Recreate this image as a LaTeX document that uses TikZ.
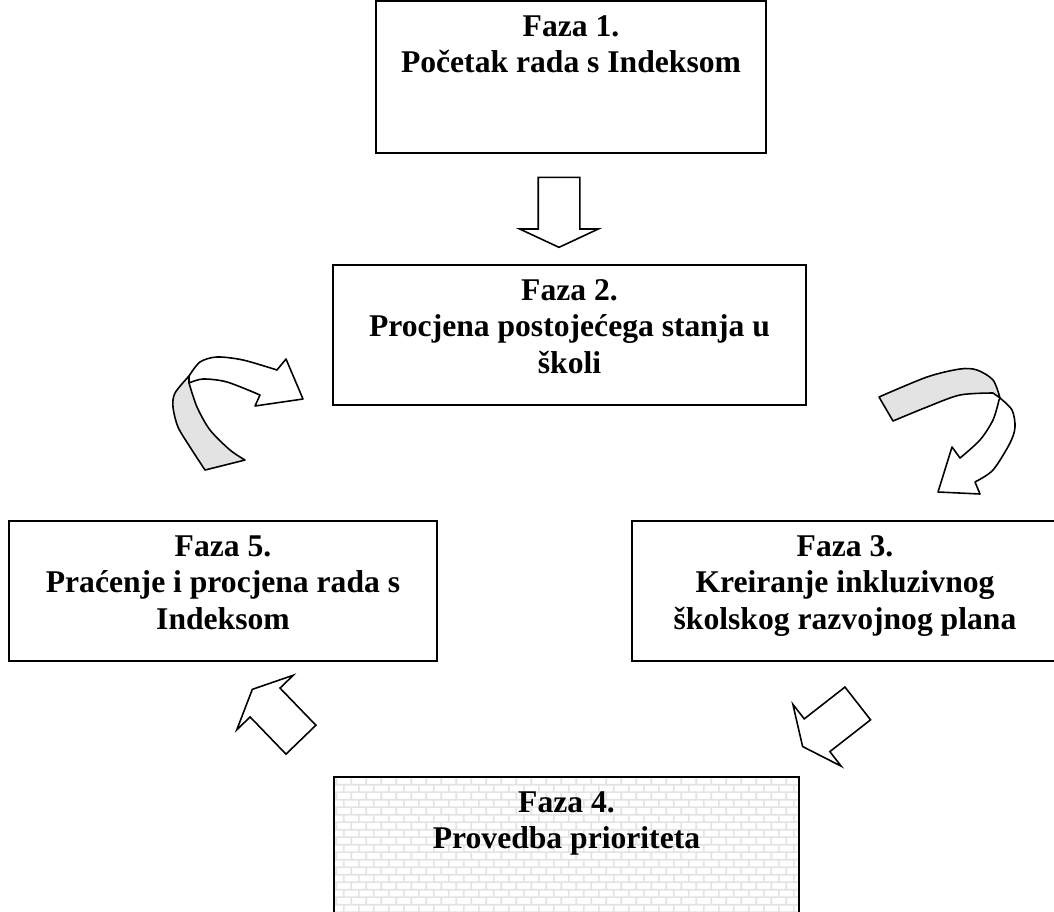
\documentclass[tikz,border=0pt]{standalone}
\usepackage{fontspec}
\setmainfont{Liberation Serif}
\usetikzlibrary{shapes.arrows, positioning, patterns.meta}

\tikzdeclarepattern{
  name=brickwall,
  type=uncolored,
  bounding box={(0pt,0pt) and (8.5pt,8.8pt)},
  tile size={(8.5pt,8.8pt)},
  code={
    \draw[line width=0.9pt] (0pt,0.45pt) -- (8.5pt,0.45pt) (0pt,4.85pt) -- (8.5pt,4.85pt)
      (0.45pt,0.45pt) -- (0.45pt,4.85pt) (4.7pt,4.85pt) -- (4.7pt,8.8pt);
  }
}

\begin{document}
\begin{tikzpicture}[
    x=0.02cm, y=-0.02cm,
    box/.style={rectangle, draw, line width=1.1pt, fill=white},
    txt/.style={align=center, inner sep=0pt, font=\fontsize{18}{20.8}\selectfont\bfseries},
    blockarrow/.style={single arrow, draw, line width=0.9pt, fill=white, single arrow tip angle=130,
        single arrow head extend=0.37cm, inner xsep=0pt, inner ysep=0.4cm, minimum height=1.4cm},
    ribbon/.style={draw, line width=0.9pt, line join=round}
]
    \clip (0,0) rectangle (1054,912);

    % Faza 1
    \node[box, minimum width=7.8cm, minimum height=3.04cm] (f1) at (571,77) {};
    \node[txt, below=0.3cm of f1.north] (t1) {Faza 1.\\Početak rada s Indeksom};

    % Faza 2
    \node[box, minimum width=9.46cm, minimum height=2.8cm] (f2) at (569.5,335) {};
    \node[txt, below=0.3cm of f2.north] (t2) {Faza 2.\\Procjena postojećega stanja u\\školi};

    % Faza 5 and Faza 3
    \node[box, minimum width=8.56cm, minimum height=2.8cm] (f5) at (223,591) {};
    \node[txt, below=0.3cm of f5.north] (t5) {Faza 5.\\Praćenje i procjena rada s\\Indeksom};
    \node[box, minimum width=8.52cm, minimum height=2.8cm] (f3) at (845,591) {};
    \node[txt, below=0.3cm of f3.north] (t3) {Faza 3.\\Kreiranje inkluzivnog\\školskog razvojnog plana};

    % Faza 4
    \node[box, pattern=brickwall, pattern color=gray!22, minimum width=9.3cm, minimum height=2.86cm] (f4) at (566.5,848.5) {};
    \node[txt, below=0.3cm of f4.north] (t4) {Faza 4.\\Provedba prioriteta};

    % Block arrows
    \node[blockarrow, rotate=-90] (a12) at (559,207.5) {};
    \node[blockarrow, rotate=218] (a34) at (834,722) {};
    \node[blockarrow, rotate=134] (a45) at (280,718) {};

    % Curved arrow f5 -> f2
    \filldraw[ribbon, fill=gray!22] (189,376) -- plot[smooth] coordinates {(189,376) (175,393) (173,407) (178,427) (190,447) (205,470)}
        -- plot[smooth] coordinates {(245,460) (230,450) (210,430) (197,407) (189,383)} -- cycle;
    \filldraw[ribbon, fill=white] plot[smooth] coordinates {(189,376) (200,362) (217,357) (243,360) (277,370)}
        -- (286,359) -- (303,399) -- (255,406)
        -- plot[smooth] coordinates {(260,395) (227,382) (203,379) (189,383)} -- cycle;

    % Curved arrow f2 -> f3
    \filldraw[ribbon, fill=white] plot[smooth] coordinates {(1000,398) (1012,410) (1015,427) (1010,443) (993,470) (975,482)}
        -- (980,494) -- (938,492) -- (952,447)
        -- plot[smooth] coordinates {(960,458) (980,440) (993,420) (999,400)} -- cycle;
    \filldraw[ribbon, fill=gray!22] (879,397) -- plot[smooth] coordinates {(879,397) (927,377) (960,369) (977,370) (993,380) (1000,398)}
        -- plot[smooth] coordinates {(993,393) (960,395) (927,407) (893,421)} -- cycle;
\end{tikzpicture}
\end{document}
